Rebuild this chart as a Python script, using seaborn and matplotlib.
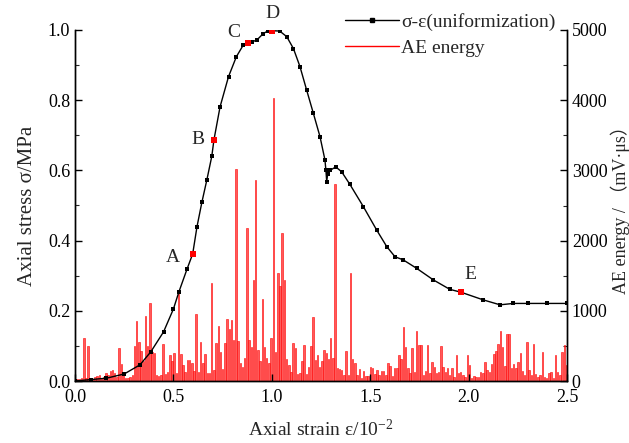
import numpy as np
import pandas as pd
import matplotlib
matplotlib.use("Agg")
import matplotlib.pyplot as plt
from matplotlib.lines import Line2D
from matplotlib.ticker import MultipleLocator
import seaborn as sns

# ---------------- data ----------------
strain = [0.00, 0.08, 0.16, 0.25, 0.33, 0.385, 0.45, 0.50, 0.528, 0.57, 0.598,
          0.62, 0.645, 0.67, 0.695, 0.706, 0.737, 0.78, 0.82, 0.855, 0.877,
          0.90, 0.925, 0.957, 0.982, 1.003, 1.04, 1.076, 1.11, 1.143, 1.177,
          1.211, 1.245, 1.27, 1.275, 1.279, 1.284, 1.296, 1.325, 1.355, 1.397,
          1.465, 1.533, 1.584, 1.626, 1.668, 1.736, 1.821, 1.905, 1.961, 2.075,
          2.160, 2.227, 2.30, 2.40, 2.50]
stress = [0.000, 0.004, 0.008, 0.020, 0.046, 0.083, 0.140, 0.205, 0.254, 0.320, 0.362,
          0.440, 0.510, 0.573, 0.640, 0.687, 0.781, 0.867, 0.924, 0.957, 0.964,
          0.966, 0.972, 0.990, 0.998, 0.998, 0.997, 0.981, 0.947, 0.896, 0.829,
          0.763, 0.696, 0.630, 0.600, 0.568, 0.590, 0.600, 0.610, 0.596, 0.560,
          0.497, 0.430, 0.383, 0.354, 0.345, 0.321, 0.288, 0.261, 0.253, 0.231,
          0.217, 0.221, 0.221, 0.221, 0.221]

key_labels = ["A", "B", "C", "D", "E"]
key_strain = [0.598, 0.706, 0.877, 1.003, 1.961]
key_stress = [0.362, 0.687, 0.964, 0.998, 0.253]

ae_step = 0.0112
ae_energy = [
    20, 30, 25, 40, 608, 40, 494, 30, 35, 50,
    70, 80, 40, 60, 110, 90, 140, 160, 120, 60,
    475, 237, 85, 40, 45, 60, 85, 498, 855, 560,
    430, 280, 930, 494, 1110, 420, 400, 85, 70, 80,
    522, 100, 130, 370, 285, 404, 110, 1282, 380, 230,
    130, 300, 300, 250, 140, 950, 130, 560, 250, 380,
    110, 120, 1391, 150, 536, 788, 410, 170, 540, 878,
    741, 869, 584, 3015, 570, 261, 204, 332, 2175, 584,
    489, 1439, 2863, 442, 285, 1163, 489, 323, 256, 617,
    4027, 418, 1534, 1358, 2104, 1439, 313, 228, 133, 536,
    475, 100, 109, 285, 513, 95, 204, 499, 916, 299,
    370, 199, 285, 442, 394, 313, 608, 323, 2806, 190,
    171, 157, 85, 427, 85, 1534, 313, 252, 85, 166,
    47, 142, 71, 71, 204, 180, 104, 157, 85, 142,
    142, 85, 252, 218, 71, 180, 180, 370, 313, 774,
    489, 180, 109, 465, 133, 712, 513, 513, 85, 142,
    513, 109, 275, 204, 109, 133, 503, 204, 133, 190,
    85, 180, 62, 370, 109, 123, 85, 62, 370, 228,
    38, 76, 62, 62, 123, 109, 275, 157, 133, 237,
    380, 427, 522, 712, 489, 218, 665, 665, 180, 237,
    180, 275, 394, 142, 85, 560, 157, 85, 522, 95,
    62, 85, 418, 62, 47, 109, 133, 47, 370, 123,
    85, 408, 513, 228,
]
ae_strain = np.arange(len(ae_energy)) * ae_step

# ---------------- style ----------------
sns.set_theme(style="ticks")
plt.rcParams["font.family"] = ["Liberation Serif", "Noto Sans CJK SC", "DejaVu Sans"]
plt.rcParams["mathtext.fontset"] = "custom"
plt.rcParams["mathtext.rm"] = "Liberation Serif"
plt.rcParams["mathtext.it"] = "Liberation Serif:italic"
plt.rcParams["xtick.direction"] = "in"
plt.rcParams["ytick.direction"] = "in"

fig = plt.figure(figsize=(6.29, 4.43), dpi=100)
ax = fig.add_axes([75 / 629, 1 - 381 / 443, 492 / 629, 351 / 443])
ax2 = ax.twinx()

# AE energy bars (right axis)
ax2.bar(ae_strain, ae_energy, width=0.0075, color="#ff5a5a",
        edgecolor="red", linewidth=0.4, zorder=1)
ax2.set_ylim(0, 5000)
ax2.yaxis.set_major_locator(MultipleLocator(1000))
ax2.yaxis.set_minor_locator(MultipleLocator(500))
ax2.set_ylabel("AE energy / （mV·μs）", fontsize=13, labelpad=2)

# stress-strain curve (left axis)
ax.set_zorder(ax2.get_zorder() + 1)
ax.patch.set_visible(False)
df = pd.DataFrame({"strain": strain, "stress": stress})
sns.lineplot(data=df, x="strain", y="stress", ax=ax, color="black",
             marker="s", markersize=2.8, markeredgewidth=0, linewidth=1.0,
             sort=False, estimator=None)
kdf = pd.DataFrame({"strain": key_strain, "stress": key_stress})
sns.scatterplot(data=kdf, x="strain", y="stress", ax=ax, color="red",
                marker="s", s=20, linewidth=0, zorder=5)

label_offsets = {"A": (-0.10, -0.009), "B": (-0.083, 0.002), "C": (-0.069, 0.030),
                 "D": (-0.002, 0.048), "E": (0.046, 0.049)}
for lab, x, y in zip(key_labels, key_strain, key_stress):
    dx, dy = label_offsets[lab]
    ax.text(x + dx, y + dy, lab, fontsize=14, ha="center", va="center",
            clip_on=False)

ax.set_xlim(0, 2.5)
ax.set_ylim(0, 1.0)
ax.xaxis.set_major_locator(MultipleLocator(0.5))
ax.yaxis.set_major_locator(MultipleLocator(0.2))
ax.yaxis.set_minor_locator(MultipleLocator(0.1))
ax.set_xlabel(r"Axial strain ε/10$^{-2}$", fontsize=14, labelpad=9)
ax.set_ylabel("Axial stress σ/MPa", fontsize=15, labelpad=8)

for a in (ax, ax2):
    a.spines["top"].set_visible(False)
    for s in ("left", "right", "bottom"):
        a.spines[s].set_linewidth(1.0)
        a.spines[s].set_color("black")
    a.tick_params(which="major", length=5, width=1, labelsize=13, colors="black")
    a.tick_params(which="minor", length=3, width=0.8)
ax.tick_params(axis="x", pad=6)

handles = [Line2D([], [], color="black", lw=1.0, marker="s", markersize=2.5),
           Line2D([], [], color="red", lw=1.0)]
fig.legend(handles, ["σ-ε(uniformization)", "AE energy"], loc="upper left",
           bbox_to_anchor=(335 / 629, 1 - 3 / 443), frameon=False, fontsize=14,
           handlelength=2.8, handletextpad=0.1, labelspacing=0.45, borderpad=0)

fig.savefig("out.png", dpi=100)
